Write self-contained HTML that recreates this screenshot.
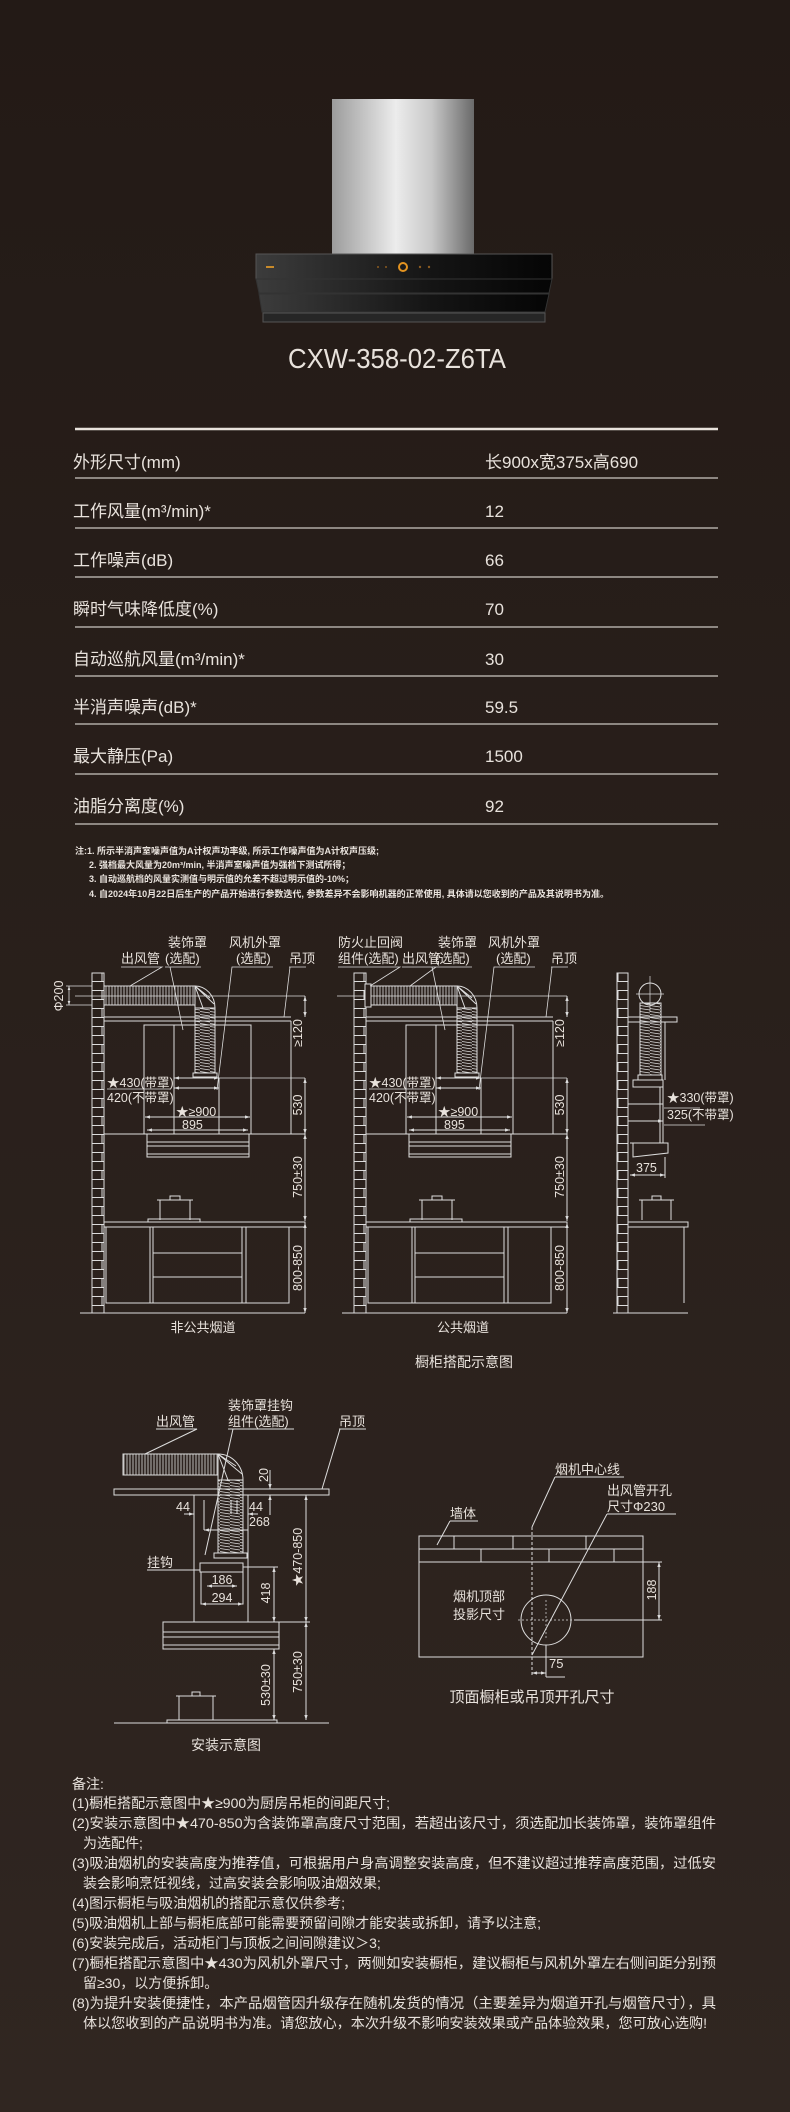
<!DOCTYPE html>
<html><head><meta charset="utf-8"><style>
html,body{margin:0;padding:0;background:#2a201c;}
svg{display:block;}
text{font-family:"Liberation Sans","Noto Sans CJK SC",sans-serif;fill:#e8e2dc;}
.t{font-size:17px;}
.n{font-size:9px;font-weight:bold;}
.l{font-size:13px;}
.d{font-size:12.5px;}
.r{font-size:14px;}
</style></head><body>
<svg width="790" height="2112" viewBox="0 0 790 2112" xmlns="http://www.w3.org/2000/svg">
<defs>
<linearGradient id="bg" x1="0" y1="0" x2="0" y2="1"><stop offset="0" stop-color="#231a16"/><stop offset="1" stop-color="#302621"/></linearGradient>
<linearGradient id="chim" x1="0" y1="0" x2="1" y2="0"><stop offset="0" stop-color="#9c9c9c"/><stop offset="0.45" stop-color="#ececec"/><stop offset="0.7" stop-color="#c8c8c8"/><stop offset="1" stop-color="#6a6a6a"/></linearGradient>
<linearGradient id="body" x1="0" y1="0" x2="1" y2="0"><stop offset="0" stop-color="#3c3c3c"/><stop offset="0.6" stop-color="#141414"/><stop offset="1" stop-color="#050505"/></linearGradient>
<pattern id="brick" width="12" height="18" patternUnits="userSpaceOnUse"><path d="M0 0.5H12M0 9.5H12M6 0V9" stroke="#ddd" stroke-width="1" fill="none"/></pattern>
<pattern id="hs" width="3" height="10" patternUnits="userSpaceOnUse"><path d="M1 0V10" stroke="#ddd" stroke-width="0.8"/></pattern>
<pattern id="vs" width="10" height="3" patternUnits="userSpaceOnUse"><path d="M0 0.5L10 2" stroke="#ddd" stroke-width="0.8"/></pattern>
<marker id="a" viewBox="0 0 6 6" refX="6" refY="3" markerWidth="5" markerHeight="5" orient="auto-start-reverse"><path d="M0 1L6 3L0 5Z" fill="#ddd"/></marker>
<g id="cab" stroke="#ddd" stroke-width="1" fill="none">
<rect x="92" y="973" width="12" height="340" fill="url(#brick)"/>
<line x1="80" y1="1313" x2="305" y2="1313"/>
<line x1="75" y1="996" x2="305" y2="996" stroke-width="0.7"/>
<rect x="104" y="986" width="91" height="19" fill="url(#hs)"/>
<path d="M195 986A20 22 0 0 1 215 1008L195 1008Z" />
<path d="M195 986L203 1008M195 986L210 998M195 986L214 1004"/>
<rect x="195" y="1008" width="20" height="65" fill="url(#vs)"/>
<rect x="193" y="1073" width="24" height="4"/>
<path d="M104 1017H291M104 1021H291"/>
<rect x="144" y="1025" width="107" height="109"/>
<line x1="174" y1="1025" x2="174" y2="1134"/>
<line x1="219" y1="1078" x2="219" y2="1134"/>
<line x1="291" y1="1021" x2="291" y2="1134"/>
<line x1="104" y1="1134" x2="305" y2="1134"/>
<rect x="147" y="1134" width="102" height="23"/>
<path d="M147 1142H249M147 1146H249M147 1154H249"/>
<line x1="217" y1="1078" x2="305" y2="1078" stroke-width="0.7"/>
<line x1="174" y1="1078" x2="219" y2="1078" marker-start="url(#a)" marker-end="url(#a)"/>
<line x1="174" y1="1088" x2="219" y2="1088" marker-start="url(#a)" marker-end="url(#a)"/>
<line x1="145" y1="1117" x2="250" y2="1117" marker-start="url(#a)" marker-end="url(#a)"/>
<line x1="147" y1="1130" x2="248" y2="1130" marker-start="url(#a)" marker-end="url(#a)"/>
<line x1="305" y1="996" x2="305" y2="1017" marker-start="url(#a)" marker-end="url(#a)"/>
<line x1="305" y1="1078" x2="305" y2="1134" marker-start="url(#a)" marker-end="url(#a)"/>
<line x1="305" y1="1134" x2="305" y2="1221" marker-start="url(#a)" marker-end="url(#a)"/>
<line x1="305" y1="1223" x2="305" y2="1313" marker-start="url(#a)" marker-end="url(#a)"/>
<rect x="104" y="1222" width="201" height="5"/>
<rect x="106" y="1227" width="183" height="76"/>
<path d="M150 1227V1303M153 1227V1303M242 1227V1303M246 1227V1303M153 1253H242M153 1277H242"/>
<path d="M160 1220V1200H190V1220M157 1200H193M170 1200V1196H180V1200M148 1222V1219H200V1222"/>
</g>
</defs>
<rect width="790" height="2112" fill="url(#bg)"/>

<!-- hood -->
<rect x="332" y="99" width="142" height="155" fill="url(#chim)"/>
<rect x="256" y="254" width="296" height="25" fill="url(#body)" stroke="#555" stroke-width="1"/>
<path d="M256 279H552L549 293H259Z" fill="url(#body)" stroke="#333"/>
<path d="M259 294H549L545 312H262Z" fill="url(#body)" stroke="#333"/>
<rect x="263" y="313" width="282" height="9" fill="#262626" stroke="#555"/>
<circle cx="403" cy="267" r="4" fill="none" stroke="#e39320" stroke-width="2"/>
<rect x="266" y="266" width="8" height="2" fill="#c88a2a"/>
<g fill="#8a5a20"><circle cx="378" cy="267" r="1"/><circle cx="386" cy="267" r="1"/><circle cx="420" cy="267" r="1.2"/><circle cx="429" cy="267" r="1.2"/></g>
<text x="397" y="368" text-anchor="middle" style="font-size:28px" transform="translate(397 0) scale(0.92 1) translate(-397 0)">CXW-358-02-Z6TA</text>

<!-- table -->
<line x1="75" y1="429" x2="718" y2="429" stroke="#e8e2dc" stroke-width="2.5"/>
<g stroke="#8d8782" stroke-width="2">
<line x1="75" y1="478" x2="718" y2="478"/><line x1="75" y1="528" x2="718" y2="528"/><line x1="75" y1="577" x2="718" y2="577"/><line x1="75" y1="627" x2="718" y2="627"/><line x1="75" y1="676" x2="718" y2="676"/><line x1="75" y1="724" x2="718" y2="724"/><line x1="75" y1="774" x2="718" y2="774"/><line x1="75" y1="824" x2="718" y2="824"/>
</g>
<g class="t">
<text x="73" y="468">外形尺寸(mm)</text><text x="485" y="468">长900x宽375x高690</text>
<text x="73" y="517">工作风量(m³/min)*</text><text x="485" y="517">12</text>
<text x="73" y="566">工作噪声(dB)</text><text x="485" y="566">66</text>
<text x="73" y="615">瞬时气味降低度(%)</text><text x="485" y="615">70</text>
<text x="73" y="665">自动巡航风量(m³/min)*</text><text x="485" y="665">30</text>
<text x="73" y="713">半消声噪声(dB)*</text><text x="485" y="713">59.5</text>
<text x="73" y="762">最大静压(Pa)</text><text x="485" y="762">1500</text>
<text x="73" y="812">油脂分离度(%)</text><text x="485" y="812">92</text>
</g>

<!-- notes -->
<g class="n">
<text x="75" y="854">注:1. 所示半消声室噪声值为A计权声功率级, 所示工作噪声值为A计权声压级;</text>
<text x="89" y="868">2. 强档最大风量为20m³/min, 半消声室噪声值为强档下测试所得；</text>
<text x="89" y="882">3. 自动巡航档的风量实测值与明示值的允差不超过明示值的-10%；</text>
<text x="89" y="897" textLength="520" lengthAdjust="spacingAndGlyphs">4. 自2024年10月22日后生产的产品开始进行参数迭代, 参数差异不会影响机器的正常使用, 具体请以您收到的产品及其说明书为准。</text>
</g>

<!-- cabinet diagrams -->
<use href="#cab"/>
<use href="#cab" transform="translate(262 0)"/>
<rect x="365" y="984" width="6" height="23" fill="#2a201c" stroke="#ddd"/>
<g class="l">
<text x="121" y="963">出风管</text>
<text x="168" y="947">装饰罩</text><text x="165" y="963">(选配)</text>
<text x="229" y="947">风机外罩</text><text x="236" y="963">(选配)</text>
<text x="289" y="963">吊顶</text>
<text x="338" y="947">防火止回阀</text><text x="338" y="963">组件(选配)</text>
<text x="402" y="963">出风管</text>
<text x="438" y="947">装饰罩</text><text x="435" y="963">(选配)</text>
<text x="488" y="947">风机外罩</text><text x="496" y="963">(选配)</text>
<text x="551" y="963">吊顶</text>
</g>
<g stroke="#ddd" stroke-width="0.8" fill="none">
<path d="M121 967H162L130 986M165 967H201M170 967L183 1030M236 967H273L232 967L217 1090M289 967H306L290 967L284 1017"/>
<path d="M338 967H400L370 986M402 967H436L410 986M435 967H472M432 967L445 1030M496 967H535L494 967L479 1090M551 967H568L552 967L546 1017"/>
<line x1="69" y1="986" x2="69" y2="1005" marker-start="url(#a)" marker-end="url(#a)"/>
<path d="M66 986H92M66 1005H92"/>
<path d="M107 1089H170M369 1089H432"/>
</g>
<g class="d">
<text transform="translate(63 996) rotate(-90)" text-anchor="middle">Φ200</text>
<text x="107" y="1087">★430(带罩)</text><text x="107" y="1102">420(不带罩)</text>
<text x="176" y="1116">★≥900</text><text x="182" y="1129">895</text>
<text x="369" y="1087">★430(带罩)</text><text x="369" y="1102">420(不带罩)</text>
<text x="438" y="1116">★≥900</text><text x="444" y="1129">895</text>
<text transform="translate(302 1033) rotate(-90)" text-anchor="middle">≥120</text>
<text transform="translate(302 1105) rotate(-90)" text-anchor="middle">530</text>
<text transform="translate(302 1177) rotate(-90)" text-anchor="middle">750±30</text>
<text transform="translate(302 1268) rotate(-90)" text-anchor="middle">800-850</text>
<text transform="translate(564 1033) rotate(-90)" text-anchor="middle">≥120</text>
<text transform="translate(564 1105) rotate(-90)" text-anchor="middle">530</text>
<text transform="translate(564 1177) rotate(-90)" text-anchor="middle">750±30</text>
<text transform="translate(564 1268) rotate(-90)" text-anchor="middle">800-850</text>
</g>
<text x="203" y="1332" class="l" text-anchor="middle">非公共烟道</text>
<text x="463" y="1332" class="l" text-anchor="middle">公共烟道</text>

<!-- side view -->
<g stroke="#ddd" stroke-width="1" fill="none">
<rect x="617" y="973" width="11" height="340" fill="url(#brick)"/>
<circle cx="650" cy="994" r="11"/>
<path d="M650 976V1012M636 994H664" stroke-width="0.7"/>
<rect x="640" y="1003" width="21" height="72" fill="url(#vs)"/>
<rect x="628" y="1017" width="49" height="5"/>
<line x1="665" y1="1022" x2="665" y2="1080"/>
<rect x="638" y="1075" width="24" height="5"/>
<rect x="633" y="1080" width="30" height="7"/>
<path d="M660 1087V1143M663 1087V1143"/>
<path d="M630 1143H668V1153L633 1157V1143"/>
<path d="M628 1104H663M628 1121H663" marker-end="url(#a)"/>
<line x1="630" y1="1175" x2="665" y2="1175" marker-start="url(#a)" marker-end="url(#a)"/>
<path d="M665 1157V1178"/>
<path d="M664 1108H700M664 1125H705" stroke-width="0.7"/>
<path d="M642 1220V1200H671V1220M639 1200H674M652 1200V1196H661V1200"/>
<rect x="628" y="1222" width="60" height="5"/>
<line x1="684" y1="1227" x2="684" y2="1303"/>
<line x1="613" y1="1313" x2="688" y2="1313"/>
</g>
<g class="d">
<text x="667" y="1102">★330(带罩)</text><text x="667" y="1119">325(不带罩)</text>
<text x="636" y="1172">375</text>
</g>
<text x="464" y="1367" class="r" text-anchor="middle">橱柜搭配示意图</text>

<!-- install diagram -->
<g stroke="#ddd" stroke-width="1" fill="none">
<rect x="123" y="1454" width="95" height="21" fill="url(#hs)"/>
<path d="M218 1454A25 26 0 0 1 243 1480L218 1480Z"/>
<path d="M218 1454L228 1480M218 1454L236 1466M218 1454L242 1474"/>
<rect x="218" y="1480" width="25" height="73" fill="url(#vs)"/>
<rect x="214" y="1553" width="33" height="5"/>
<rect x="114" y="1489" width="215" height="6"/>
<path d="M194 1495V1622M248 1495V1622"/>
<rect x="200" y="1563" width="43" height="9"/>
<rect x="201" y="1572" width="42" height="32"/>
<line x1="207" y1="1586" x2="237" y2="1586" marker-start="url(#a)" marker-end="url(#a)"/>
<line x1="201" y1="1604" x2="243" y2="1604" marker-start="url(#a)" marker-end="url(#a)"/>
<line x1="184" y1="1514" x2="194" y2="1514" marker-end="url(#a)"/>
<line x1="248" y1="1514" x2="258" y2="1514" marker-start="url(#a)"/>
<path d="M204 1500V1530M231 1500V1514M237 1500V1514"/>
<line x1="204" y1="1530" x2="248" y2="1530" marker-start="url(#a)"/>
<line x1="270" y1="1470" x2="270" y2="1489" marker-end="url(#a)"/>
<line x1="270" y1="1515" x2="270" y2="1495" marker-end="url(#a)"/>
<path d="M248 1495H310M243 1567H278"/>
<line x1="274" y1="1567" x2="274" y2="1622" marker-start="url(#a)" marker-end="url(#a)"/>
<line x1="306" y1="1495" x2="306" y2="1622" marker-start="url(#a)" marker-end="url(#a)"/>
<rect x="163" y="1622" width="116" height="27"/>
<path d="M163 1632H279M163 1637H279M163 1645H279M279 1622H310"/>
<line x1="274" y1="1649" x2="274" y2="1720" marker-start="url(#a)" marker-end="url(#a)"/>
<line x1="306" y1="1622" x2="306" y2="1720" marker-start="url(#a)" marker-end="url(#a)"/>
<path d="M179 1720V1696H213V1720M176 1696H216M192 1696V1692H200V1696M167 1723V1720H277V1723"/>
<line x1="114" y1="1723" x2="329" y2="1723"/>
<path d="M156 1429H197L145 1454M228 1429H294M233 1429L205 1555M339 1429H366M340 1429L322 1489M147 1570H200"/>
</g>
<g class="l">
<text x="228" y="1410">装饰罩挂钩</text><text x="228" y="1426">组件(选配)</text>
<text x="156" y="1426">出风管</text><text x="339" y="1426">吊顶</text>
<text x="147" y="1567">挂钩</text>
</g>
<g class="d">
<text transform="translate(268 1475) rotate(-90)" text-anchor="middle">20</text>
<text x="176" y="1511">44</text><text x="249" y="1511">44</text><text x="249" y="1526">268</text>
<text x="222" y="1584" text-anchor="middle">186</text><text x="222" y="1602" text-anchor="middle">294</text>
<text transform="translate(270 1593) rotate(-90)" text-anchor="middle">418</text>
<text transform="translate(302 1557) rotate(-90)" text-anchor="middle">★470-850</text>
<text transform="translate(270 1685) rotate(-90)" text-anchor="middle">530±30</text>
<text transform="translate(302 1672) rotate(-90)" text-anchor="middle">750±30</text>
</g>
<text x="226" y="1750" class="r" text-anchor="middle">安装示意图</text>

<!-- top view -->
<g stroke="#ddd" stroke-width="1" fill="none">
<rect x="419" y="1536" width="224" height="26"/>
<path d="M419 1549H643M454 1536V1549M513 1536V1549M586 1536V1549M481 1549V1562M549 1549V1562M614 1549V1562"/>
<rect x="419" y="1562" width="224" height="95"/>
<line x1="532" y1="1527" x2="532" y2="1675" stroke-dasharray="3 2"/>
<circle cx="546" cy="1620" r="25"/>
<path d="M518 1620H574M546 1600V1640" stroke-dasharray="2 2" stroke-width="0.7"/>
<path d="M574 1620H662M643 1562H662"/>
<line x1="659" y1="1562" x2="659" y2="1620" marker-start="url(#a)" marker-end="url(#a)"/>
<path d="M546 1645V1677"/>
<line x1="532" y1="1673" x2="546" y2="1673" marker-start="url(#a)" marker-end="url(#a)"/>
<path d="M546 1677H565"/>
<path d="M555 1477H624M555 1477L532 1527M607 1514H676M607 1514L532 1655M450 1521H478M450 1521L437 1545"/>
</g>
<g class="l">
<text x="555" y="1474">烟机中心线</text>
<text x="607" y="1495">出风管开孔</text><text x="607" y="1511">尺寸Φ230</text>
<text x="450" y="1518">墙体</text>
<text x="453" y="1601">烟机顶部</text><text x="453" y="1619">投影尺寸</text>
<text x="549" y="1668">75</text>
<text transform="translate(656 1590) rotate(-90)" text-anchor="middle" class="d">188</text>
</g>
<text x="532" y="1702" class="r" text-anchor="middle" style="font-size:15px">顶面橱柜或吊顶开孔尺寸</text>

<!-- remarks -->
<g class="r">
<text x="72" y="1789">备注:</text>
<text x="72" y="1808">(1)橱柜搭配示意图中★≥900为厨房吊柜的间距尺寸;</text>
<text x="72" y="1828" textLength="644" lengthAdjust="spacingAndGlyphs">(2)安装示意图中★470-850为含装饰罩高度尺寸范围，若超出该尺寸，须选配加长装饰罩，装饰罩组件</text>
<text x="83" y="1848">为选配件;</text>
<text x="72" y="1868" textLength="644" lengthAdjust="spacingAndGlyphs">(3)吸油烟机的安装高度为推荐值，可根据用户身高调整安装高度，但不建议超过推荐高度范围，过低安</text>
<text x="83" y="1888">装会影响烹饪视线，过高安装会影响吸油烟效果;</text>
<text x="72" y="1908">(4)图示橱柜与吸油烟机的搭配示意仅供参考;</text>
<text x="72" y="1928">(5)吸油烟机上部与橱柜底部可能需要预留间隙才能安装或拆卸，请予以注意;</text>
<text x="72" y="1948">(6)安装完成后，活动柜门与顶板之间间隙建议＞3;</text>
<text x="72" y="1968" textLength="644" lengthAdjust="spacingAndGlyphs">(7)橱柜搭配示意图中★430为风机外罩尺寸，两侧如安装橱柜，建议橱柜与风机外罩左右侧间距分别预</text>
<text x="83" y="1988">留≥30，以方便拆卸。</text>
<text x="72" y="2008" textLength="644" lengthAdjust="spacingAndGlyphs">(8)为提升安装便捷性，本产品烟管因升级存在随机发货的情况（主要差异为烟道开孔与烟管尺寸），具</text>
<text x="83" y="2028" textLength="624" lengthAdjust="spacingAndGlyphs">体以您收到的产品说明书为准。请您放心，本次升级不影响安装效果或产品体验效果，您可放心选购!</text>
</g>
</svg>
</body></html>
